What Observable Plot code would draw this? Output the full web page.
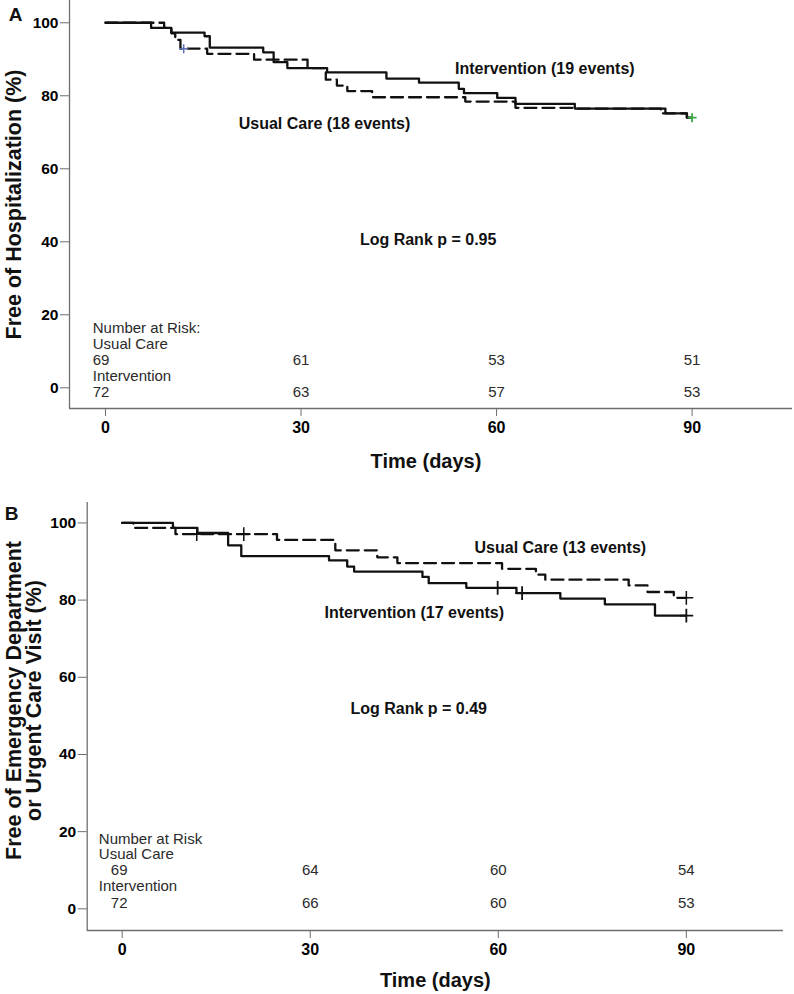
<!DOCTYPE html>
<html><head><meta charset="utf-8">
<script src="https://cdn.jsdelivr.net/npm/d3@7"></script>
<script src="https://cdn.jsdelivr.net/npm/@observablehq/plot@0.6"></script>
<style>
body{margin:0;background:#fff;font-family:"Liberation Sans",Arial,sans-serif;}
#wrap{position:relative;width:794px;height:994px;overflow:hidden;}
#wrap svg{position:absolute;left:0;}
</style></head><body><div id="wrap"></div>
<script>
// ---------- data ----------
const xTicks = [0, 30, 60, 90];
const yTicks = [0, 20, 40, 60, 80, 100];
const riskDays = [0, 30, 60, 90];

// Panel A: Free of Hospitalization
const A_ucT  = [0, 9.0, 10.1, 10.7, 11.5, 15.6, 22.8, 31.0, 33.8, 35.5, 37.1, 40.9, 55.2, 62.9, 71.9, 85.2, 89.2, 90];
const A_ucS  = [100, 98.6, 97.1, 95.3, 92.9, 91.5, 89.9, 87.6, 84.4, 82.8, 81.3, 79.6, 78.4, 76.7, 76.5, 75.2, 74.0, 74.0];
const A_intT = [0, 7.0, 10.1, 15.2, 16.0, 24.2, 25.8, 27.9, 34.0, 43.1, 48.1, 54.2, 55.0, 60.1, 62.9, 72.0, 85.9, 89.2, 90];
const A_intS = [100, 98.6, 97.3, 96.3, 93.2, 91.9, 89.2, 87.6, 86.4, 84.7, 83.6, 81.9, 80.7, 79.4, 77.8, 76.5, 75.2, 74.0, 74.0];
const A_ucCensor  = [12.0];
const A_intCensor = [90];
const A_riskUc  = [69, 61, 53, 51];
const A_riskInt = [72, 63, 57, 53];
const A_labels = ["Intervention (19 events)", "Usual Care (18 events)", "Log Rank p = 0.95"];
const A_yTitle = "Free of Hospitalization (%)";

// Panel B: Free of ED or Urgent Care Visit
const B_ucT  = [0, 1.8, 8.5, 24.7, 34.0, 40.7, 43.9, 60.6, 66.0, 67.5, 80.8, 83.8, 88.0, 90];
const B_ucS  = [100, 98.7, 97.1, 95.6, 92.9, 91.1, 89.6, 88.1, 86.6, 85.3, 83.8, 82.1, 80.6, 80.6];
const B_intT = [0, 8.1, 12.0, 16.9, 19.0, 33.0, 35.9, 37.0, 47.9, 48.9, 54.9, 62.9, 69.9, 77.0, 85.0, 90];
const B_intS = [100, 98.7, 97.4, 94.2, 91.4, 90.3, 88.7, 87.4, 86.0, 84.4, 83.2, 81.8, 80.4, 78.9, 76.0, 76.0];
const B_ucCensor  = [11.9, 19.4, 90];
const B_intCensor = [59.9, 63.8, 90];
const B_riskUc  = [69, 64, 60, 54];
const B_riskInt = [72, 66, 60, 53];
const B_labels = ["Intervention (17 events)", "Usual Care (13 events)", "Log Rank p = 0.49"];
const B_yTitle = "Free of Emergency Department\nor Urgent Care Visit (%)";

const xTitle = "Time (days)";
const riskHeadA = "Number at Risk:";
const riskHeadB = "Number at Risk";
const groupNames = ["Usual Care", "Intervention"];

// ---------- helpers ----------
const toSteps = (ts, ss) => ts.map((t, i) => ({t, s: ss[i]}));
const valueAt = (ts, ss, t) => { let v = ss[0]; ts.forEach((u, i) => { if (u <= t) v = ss[i]; }); return v; };

const AXIS = "#6e6e6e", INK = "#111";
const F = "Liberation Sans, Arial, sans-serif";

function panel(c) {
  const uc = toSteps(c.ucT, c.ucS), it = toSteps(c.intT, c.intS);
  const ucC = c.ucCensor.map(t => ({t, s: valueAt(c.ucT, c.ucS, t)}));
  const itC = c.intCensor.map(t => ({t, s: valueAt(c.intT, c.intS, t)}));
  const r = c.riskY;
  const headRows = [
    {x: c.riskLabelX, y: r[0], text: c.riskHead},
    {x: c.riskLabelX, y: r[1], text: groupNames[0]},
    {x: c.riskLabelX, y: r[3], text: groupNames[1]}
  ];
  const nums = [];
  riskDays.forEach((d, i) => {
    nums.push({x: d, y: r[2], text: String(c.riskUc[i]), first: i === 0});
    nums.push({x: d, y: r[4], text: String(c.riskInt[i]), first: i === 0});
  });
  const normal = {fontSize: 15, fontWeight: "normal", fill: "#2a2a2a"};
  const marks = [
    Plot.ruleX([c.xDomain[0]], {stroke: AXIS, strokeWidth: 1.3}),
    Plot.ruleY([c.yDomain[0]], {stroke: AXIS, strokeWidth: 1.3}),
    Plot.axisY({ticks: yTicks, tickSize: 9, stroke: AXIS, tickFormat: () => "", label: null}),
    Plot.axisX({ticks: xTicks, tickSize: 8, stroke: AXIS, tickFormat: () => "", label: null}),
    // tick labels
    Plot.text(yTicks, {x: () => c.xDomain[0], y: d => d, text: d => String(d), dx: -11, textAnchor: "end", lineAnchor: "middle", fontSize: 15.5, fontWeight: "bold", fill: "#000"}),
    Plot.text(xTicks, {x: d => d, y: () => c.yDomain[0], text: d => String(d), dy: 13.5, textAnchor: "middle", lineAnchor: "top", fontSize: 16, fontWeight: "bold", fill: "#000"}),
    Plot.line(uc, {x: "t", y: "s", curve: "step-after", stroke: INK, strokeWidth: 2.3, strokeDasharray: "12,6"}),
    Plot.line(it, {x: "t", y: "s", curve: "step-after", stroke: INK, strokeWidth: 2.3}),
    Plot.dot(ucC, {x: "t", y: "s", symbol: "plus", r: c.censorR, stroke: c.ucCensorColor, strokeWidth: 1.5}),
    Plot.dot(itC, {x: "t", y: "s", symbol: "plus", r: c.censorR, stroke: c.intCensorColor, strokeWidth: 1.8}),
    Plot.text([{x: c.intLabel[0], y: c.intLabel[1], text: c.labels[0]},
               {x: c.ucLabel[0], y: c.ucLabel[1], text: c.labels[1]},
               {x: c.lrLabel[0], y: c.lrLabel[1], text: c.labels[2]}],
      {x: "x", y: "y", text: "text", fontSize: 16, fontWeight: "bold", fill: INK, textAnchor: "middle"}),
    Plot.text(headRows, {x: "x", y: "y", text: "text", textAnchor: "start", ...normal}),
    Plot.text(nums.filter(d => d.first), {x: "x", y: "y", text: "text", textAnchor: c.firstAnchor, dx: c.firstDx, ...normal}),
    Plot.text(nums.filter(d => !d.first), {x: "x", y: "y", text: "text", textAnchor: "middle", ...normal}),
    Plot.text([c.yTitle], {text: d => d, frameAnchor: "left", rotate: -90, dx: c.yTitleDx, dy: c.yTitleDy, fontSize: 21.5, fontWeight: "bold", fill: INK, lineHeight: 0.95, textAnchor: "middle", lineAnchor: "middle"}),
    Plot.text([xTitle], {text: d => d, frameAnchor: "bottom", dx: c.xTitleDx, dy: c.xTitleDy, fontSize: 20, fontWeight: "bold", fill: INK, textAnchor: "middle", lineAnchor: "middle"}),
    Plot.text([c.letter], {text: d => d, frameAnchor: "top-left", dx: c.letterDx, dy: c.letterDy, fontSize: 19, fontWeight: "bold", fill: INK, textAnchor: "middle", lineAnchor: "middle"})
  ];
  const svg = Plot.plot({
    width: 794, height: c.height,
    marginLeft: c.marginLeft, marginRight: c.marginRight, marginTop: c.marginTop, marginBottom: c.marginBottom,
    x: {domain: c.xDomain},
    y: {domain: c.yDomain},
    style: {fontFamily: F, color: INK, background: "transparent", overflow: "visible"},
    marks
  });
  svg.style.top = c.top + "px";
  return svg;
}

const wrap = document.getElementById("wrap");
wrap.appendChild(panel({
  letter: "A", top: 0, height: 478,
  marginLeft: 69, marginRight: 2, marginTop: 0, marginBottom: 70,
  xDomain: [-5.52, 105.4], yDomain: [-5.67, 106.1],
  ucT: A_ucT, ucS: A_ucS, intT: A_intT, intS: A_intS,
  ucCensor: A_ucCensor, intCensor: A_intCensor,
  ucCensorColor: "#5a6fb0", intCensorColor: "#3aa845", censorR: 3,
  riskUc: A_riskUc, riskInt: A_riskInt, riskHead: riskHeadA,
  riskY: [16.2, 11.9, 7.5, 3.1, -1.2], riskLabelX: -1.95, firstAnchor: "start", firstDx: -12.7,
  labels: A_labels, intLabel: [67.4, 87.4], ucLabel: [33.6, 72.3], lrLabel: [49.5, 40.4],
  yTitle: A_yTitle, yTitleDx: -55, yTitleDy: 0,
  xTitleDx: -5, xTitleDy: 53,
  letterDx: -54, letterDy: 14
}));
wrap.appendChild(panel({
  letter: "B", top: 478, height: 516,
  marginLeft: 86.7, marginRight: 11, marginTop: 24, marginBottom: 64,
  xDomain: [-5.58, 105.5], yDomain: [-5.62, 105.3],
  ucT: B_ucT, ucS: B_ucS, intT: B_intT, intS: B_intS,
  ucCensor: B_ucCensor, intCensor: B_intCensor,
  ucCensorColor: INK, intCensorColor: INK, censorR: 4.5,
  riskUc: B_riskUc, riskInt: B_riskInt, riskHead: riskHeadB,
  riskY: [18.1, 14.1, 9.9, 5.8, 1.5], riskLabelX: -3.73, firstAnchor: "middle", firstDx: -3,
  labels: B_labels, intLabel: [46.6, 76.8], ucLabel: [69.9, 93.5], lrLabel: [47.3, 51.7],
  yTitle: B_yTitle, yTitleDx: -63, yTitleDy: -16,
  xTitleDx: 0, xTitleDy: 50,
  letterDx: -75.7, letterDy: 11
}));
</script>
</body></html>
